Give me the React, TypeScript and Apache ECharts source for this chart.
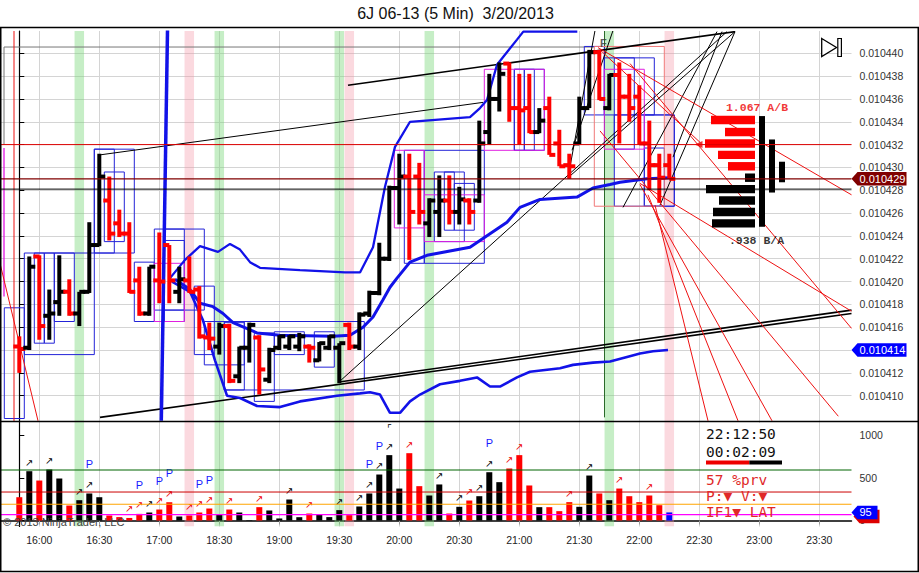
import React, { useEffect, useRef } from "react";
import * as echarts from "echarts";

// ---------- texts ----------
const TITLE = "6J 06-13 (5 Min)  3/20/2013";
const COPYRIGHT = "\u00A9 2013 NinjaTrader, LLC";
const clockLines = ["22:12:50", "00:02:09"];
const statusLines = ["57 %prv", "P:\u25BC V:\u25BC", "IF1\u25BC LAT"];
const barProgress = 0.57;

// ---------- axes ----------
const timeTickIndex = [2, 8, 14, 20, 26, 32, 38, 44, 50, 56, 62, 68, 74, 80];
const timeTickLabels = ["16:00", "16:30", "17:00", "18:30", "19:00", "19:30", "20:00", "20:30", "21:00", "21:30", "22:00", "22:30", "23:00", "23:30"];
const priceTicks = [0.01041, 0.010412, 0.010414, 0.010416, 0.010418, 0.01042, 0.010422, 0.010424, 0.010426, 0.010428, 0.01043, 0.010432, 0.010434, 0.010436, 0.010438, 0.01044];
const volumeTicks = [0, 500, 1000];

// ---------- price bars: [open, high, low, close] ----------
const ohlc = [
  [0.0104143, 0.0104152, 0.010412, 0.0104141],
  [0.0104142, 0.0104222, 0.010414, 0.0104213],
  [0.0104222, 0.0104223, 0.0104149, 0.0104161],
  [0.010417, 0.0104193, 0.0104149, 0.0104172],
  [0.0104182, 0.0104223, 0.010417, 0.0104191],
  [0.0104191, 0.0104202, 0.010417, 0.0104172],
  [0.0104172, 0.0104191, 0.0104161, 0.0104191],
  [0.0104191, 0.0104252, 0.010419, 0.0104232],
  [0.0104232, 0.0104312, 0.0104231, 0.0104292],
  [0.0104271, 0.0104292, 0.0104236, 0.0104242],
  [0.0104251, 0.0104263, 0.0104239, 0.0104242],
  [0.0104242, 0.0104252, 0.010419, 0.0104191],
  [0.0104201, 0.0104213, 0.010417, 0.0104172],
  [0.0104172, 0.0104213, 0.010417, 0.0104213],
  [0.0104201, 0.0104243, 0.0104181, 0.01042],
  [0.0104232, 0.0104232, 0.0104181, 0.0104201],
  [0.0104191, 0.0104213, 0.0104181, 0.0104202],
  [0.0104201, 0.0104222, 0.010419, 0.0104191],
  [0.0104193, 0.0104196, 0.010415, 0.0104152],
  [0.0104151, 0.0104164, 0.010414, 0.010415],
  [0.0104143, 0.0104164, 0.0104136, 0.0104161],
  [0.0104161, 0.0104163, 0.0104111, 0.0104113],
  [0.0104117, 0.0104143, 0.0104111, 0.0104142],
  [0.0104142, 0.0104164, 0.0104129, 0.0104162],
  [0.0104151, 0.0104153, 0.0104101, 0.0104123],
  [0.0104114, 0.0104142, 0.0104111, 0.010414],
  [0.0104142, 0.0104153, 0.010414, 0.0104152],
  [0.0104143, 0.0104153, 0.010414, 0.0104152],
  [0.0104143, 0.0104155, 0.0104139, 0.0104152],
  [0.0104143, 0.0104145, 0.0104129, 0.0104142],
  [0.0104131, 0.0104147, 0.010413, 0.0104146],
  [0.0104142, 0.0104153, 0.010414, 0.0104152],
  [0.0104142, 0.0104146, 0.0104111, 0.0104146],
  [0.0104162, 0.0104164, 0.010414, 0.0104143],
  [0.0104143, 0.0104173, 0.010414, 0.0104171],
  [0.0104172, 0.0104192, 0.0104169, 0.010419],
  [0.010419, 0.0104234, 0.0104188, 0.010422],
  [0.010422, 0.0104284, 0.0104218, 0.0104282],
  [0.0104282, 0.0104312, 0.010425, 0.0104292],
  [0.0104292, 0.0104312, 0.0104219, 0.0104261],
  [0.0104292, 0.0104304, 0.010425, 0.0104261],
  [0.0104251, 0.0104273, 0.0104239, 0.0104271],
  [0.0104261, 0.0104293, 0.0104239, 0.0104271],
  [0.0104271, 0.0104293, 0.010425, 0.0104261],
  [0.0104261, 0.0104283, 0.010425, 0.0104272],
  [0.0104271, 0.0104273, 0.010425, 0.0104261],
  [0.0104271, 0.0104341, 0.0104269, 0.0104321],
  [0.0104331, 0.0104382, 0.010432, 0.010436],
  [0.010436, 0.0104392, 0.0104349, 0.0104382],
  [0.0104391, 0.0104392, 0.010434, 0.0104352],
  [0.0104352, 0.0104382, 0.010432, 0.010435],
  [0.0104352, 0.0104382, 0.010433, 0.0104331],
  [0.0104331, 0.0104352, 0.010433, 0.0104341],
  [0.0104352, 0.0104362, 0.0104311, 0.0104311],
  [0.0104321, 0.0104333, 0.0104301, 0.0104301],
  [0.0104302, 0.0104312, 0.010429, 0.0104301],
  [0.0104321, 0.0104362, 0.010432, 0.0104352],
  [0.0104352, 0.0104403, 0.0104352, 0.0104401],
  [0.0104401, 0.0104403, 0.0104359, 0.010436],
  [0.0104352, 0.0104382, 0.010435, 0.0104381],
  [0.0104381, 0.0104392, 0.0104321, 0.0104362],
  [0.0104362, 0.0104382, 0.010434, 0.0104352],
  [0.0104362, 0.0104372, 0.010432, 0.0104321],
  [0.0104321, 0.0104341, 0.010428, 0.0104302],
  [0.0104302, 0.0104312, 0.0104269, 0.0104291],
  [0.0104302, 0.0104312, 0.010429, 0.010429],
];

// ---------- volume ----------
const volumes = [274, 580, 470, 600, 494, 176, 239, 318, 274, 59, 40, 30, 78, 94, 129, 215, 47, 59, 94, 141, 71, 129, 94, 5, 157, 118, 24, 247, 39, 82, 71, 40, 122, 63, 165, 318, 541, 769, 376, 792, 404, 294, 424, 82, 161, 235, 286, 568, 451, 612, 769, 412, 157, 157, 110, 216, 161, 529, 318, 239, 376, 286, 216, 294, 180, 95];
const arrowBars = [1, 3, 6, 7, 11, 12, 13, 14, 15, 17, 18, 19, 21, 24, 27, 29, 32, 34, 35, 36, 37, 39, 42, 44, 45, 46, 47, 49, 50, 55, 57, 60, 63];
const pBars = [7, 12, 14, 15, 18, 19, 35, 36, 47];
const flagBars = [37];
const volumeLevels = [594, 335, 191, 68];
const lastVolume = 95;

// ---------- highlighted bar columns ----------
const greenBars = [6, 20, 32, 41, 59];
const pinkBars = [17, 33, 65];

// ---------- bands: [bar index, price] ----------
const spikeLine = [[14.82, 0.010442], [14.2, 0.0104078]];
const upperBand = [[15.07, 0.0104203], [16.57, 0.0104219], [18.07, 0.0104231], [19.87, 0.0104226], [21.07, 0.0104233], [22.07, 0.0104228], [23.07, 0.0104217], [24.07, 0.0104212], [28.07, 0.010421], [32.57, 0.0104208], [34.07, 0.0104208], [35.37, 0.010423], [36.57, 0.0104283], [37.57, 0.0104318], [39.07, 0.010434], [45.07, 0.0104344], [46.07, 0.0104352], [46.77, 0.0104359], [47.77, 0.010439], [49.77, 0.0104412], [50.4, 0.0104419], [55.8, 0.0104419]];
const middleBand = [[15.57, 0.0104202], [17.07, 0.0104193], [18.07, 0.0104181], [19.37, 0.0104178], [20.37, 0.0104172], [21.37, 0.0104164], [23.77, 0.0104155], [26.07, 0.0104153], [31.37, 0.0104152], [33.07, 0.0104153], [34.37, 0.010416], [35.37, 0.0104169], [36.37, 0.0104184], [37.07, 0.0104195], [37.77, 0.0104203], [39.07, 0.0104217], [40.77, 0.0104223], [45.07, 0.010423], [48.77, 0.0104252], [50.07, 0.0104265], [52.07, 0.0104272], [55.77, 0.0104274], [57.37, 0.0104282], [59.07, 0.0104285], [60.07, 0.0104287], [62.77, 0.010429], [65.07, 0.0104291]];
const lowerBand = [[15.27, 0.01042], [17.07, 0.0104191], [18.37, 0.0104166], [19.57, 0.0104131], [20.77, 0.01041], [22.07, 0.0104098], [23.77, 0.0104091], [26.07, 0.010409], [28.07, 0.0104095], [31.77, 0.01041], [34.07, 0.0104102], [35.07, 0.0104103], [36.07, 0.0104101], [37.07, 0.0104085], [38.07, 0.0104085], [39.07, 0.0104095], [40.07, 0.0104101], [42.07, 0.010411], [44.07, 0.0104113], [45.77, 0.0104116], [47.07, 0.0104108], [48.07, 0.0104108], [49.77, 0.0104116], [51.07, 0.0104121], [54.07, 0.0104124], [55.37, 0.0104127], [57.37, 0.0104129], [59.07, 0.010413], [60.77, 0.0104134], [62.07, 0.0104137], [63.37, 0.0104139], [64.87, 0.010414]];

// ---------- range boxes: [fromIndex, toIndex, topPrice, bottomPrice] ----------
const blueBoxes = [
  [-1.5, 0.5, 0.0104177, 0.010408], [0.5, 7.5, 0.0104225, 0.0104136], [1.5, 2.5, 0.0104225, 0.0104146],
  [2.5, 3.5, 0.0104225, 0.0104146], [3.5, 5.5, 0.0104225, 0.0104165], [7.5, 11.5, 0.0104316, 0.0104225],
  [7.5, 9.5, 0.0104316, 0.0104225], [8.5, 10.5, 0.0104296, 0.0104235], [11.5, 13.5, 0.0104217, 0.0104165],
  [13.5, 16.5, 0.0104246, 0.0104175], [14.5, 18.5, 0.0104246, 0.0104175], [14.5, 16.5, 0.0104236, 0.0104165],
  [17.5, 19.5, 0.0104196, 0.0104136], [18.5, 22.5, 0.0104165, 0.0104127], [20.5, 34.5, 0.0104165, 0.0104105],
  [20.5, 22.5, 0.0104164, 0.0104105], [23.5, 25.5, 0.0104155, 0.0104095], [25.5, 28.5, 0.0104156, 0.0104136],
  [29.5, 31.5, 0.0104156, 0.0104125], [38.5, 40.5, 0.0104315, 0.0104216], [40.5, 46.5, 0.0104315, 0.0104216],
  [41.5, 44.5, 0.0104296, 0.0104235], [42.5, 43.5, 0.0104296, 0.0104245], [43.5, 45.5, 0.0104286, 0.0104245],
  [49.5, 52.5, 0.0104386, 0.0104315], [49.5, 50.5, 0.0104386, 0.0104315], [50.5, 51.5, 0.0104386, 0.0104315],
  [56.5, 58.5, 0.0104406, 0.0104346], [58.5, 63.5, 0.0104396, 0.0104346], [59.5, 61.5, 0.0104396, 0.0104316],
  [59.5, 65.5, 0.0104346, 0.0104266], [62.5, 65.5, 0.0104346, 0.0104266], [62.5, 64.5, 0.0104317, 0.0104266],
];
const magentaBoxes = [
  [13.5, 16.5, 0.0104216, 0.0104165], [37.5, 40.5, 0.0104315, 0.0104247], [40.5, 46.5, 0.0104276, 0.0104235],
  [46.5, 52.5, 0.0104386, 0.0104315], [58.5, 62.5, 0.0104386, 0.0104316],
];
const pinkBoxes = [[57.5, 64.5, 0.0104406, 0.0104266]];

// ---------- drawn lines: [index1, price1, index2, price2] ----------
const blackThickLines = [
  [32.87, 0.0104372, 71.57, 0.0104419],
  [8.07, 0.0104081, 83.22, 0.0104172],
  [31.97, 0.0104112, 83.22, 0.0104175],
];
const blackLines = [
  [8.07, 0.0104311, 46.37, 0.0104357],
  [31.97, 0.0104112, 70.77, 0.0104419],
  [54.87, 0.0104291, 71.57, 0.0104419],
  [54.87, 0.0104291, 57.57, 0.010442],
  [55.27, 0.0104315, 59.37, 0.010442],
  [64.07, 0.0104267, 71.57, 0.0104419],
  [65.37, 0.0104309, 70.27, 0.0104419],
  [60.37, 0.0104265, 69.77, 0.0104419],
];
const redLines = [
  [57.87, 0.0104405, 83.22, 0.0104276],
  [61.07, 0.0104391, 83.22, 0.0104159],
  [62.07, 0.0104286, 83.22, 0.0104174],
  [58.07, 0.0104332, 81.9, 0.0104082],
  [63.57, 0.0104267, 68.87, 0.0104078],
  [62.87, 0.0104276, 71.87, 0.0104078],
  [62.07, 0.0104285, 75.27, 0.0104078],
  [58.07, 0.0104403, 68.07, 0.0104322],
  [-1.93, 0.0104216, 1.87, 0.0104078],
  [-0.53, 0.010443, -0.53, 0.010407],
];
const grayLines = [
  [-1.53, 0.01044055, 57.47, 0.01044055],
  [-1.53, 0.01044055, -1.53, 0.010432],
];
const magentaLines = [[-1.53, 0.0104317, -1.53, 0.0104187]];
const greenLines = [[58.52, 0.010443, 58.52, 0.0104081]];

// ---------- price levels ----------
const askLevel = 0.010432;
const lastPrice = 0.010429;
const bidLevel = 0.0104281;
const lowerBandLast = 0.010414;

// ---------- volume profile (right) ----------
const profileLevels = [0.01043415, 0.0104331, 0.0104321, 0.0104311, 0.0104301, 0.0104291, 0.0104281, 0.0104271, 0.0104261, 0.0104251];
const profileSizes = [44, 30, 50, 37, 27, 10, 49, 36, 42, 43];
const profileIsAsk = [1, 1, 1, 1, 1, 0, 0, 0, 0, 0];
const profileColumns = [[-7, 0.0104345, 0.0104248], [-17, 0.01043245, 0.0104278], [-27, 0.0104305, 0.0104287]];
const profileTexts = [
  { text: "1.067 A/B", at: [-2, 0.01043527], ask: true },
  { text: ".938 B/A", at: [-1.5, 0.01042364], ask: false },
];
const profileArrowAt = [56.5, 0.010432];
const fibMarks = [{ text: "F", at: [58.4, 0.01044093] }];

// ---------- layout constants ----------
const XMIN = -1.83, XMAX = 83.22;
const PMIN = 0.010407782, PMAX = 0.010441954;
const VMIN = -70.6, VMAX = 1158.8;
const PROF_MIN = -96.5, PROF_MAX = 754;

const RED = "#ff0000";
const BLACK = "#000000";
const BAND_BLUE = "#1212e8";
const GRID_GRAY = "#d4d4d4";
const GREEN_SHADE = "rgba(120,215,120,0.42)";
const PINK_SHADE = "rgba(245,150,165,0.36)";
const MONO = "'DejaVu Sans Mono', 'Liberation Mono', monospace";
const SANS = "'Liberation Sans', Arial, sans-serif";

const isDown = (i: number) => ohlc[i][3] < ohlc[i][0];
// the blue tag sits on top of this axis label, as in the original
const priceLabelValues = priceTicks.filter((v) => Math.abs(v - lowerBandLast) > 1e-10);

function shadeSeries(gridIdx: number) {
  return {
    type: "custom", xAxisIndex: gridIdx, yAxisIndex: gridIdx, z: 1, silent: true, clip: true,
    data: [...greenBars.map((i) => [i, 0]), ...pinkBars.map((i) => [i, 1])],
    renderItem: (params: any, api: any) => {
      const cs = params.coordSys;
      const x = api.coord([api.value(0), gridIdx === 0 ? PMIN : 0])[0];
      const w = api.size([1, 0])[0] * 0.95;
      return { type: "rect", shape: { x: x - w / 2, y: cs.y, width: w, height: cs.height }, style: { fill: api.value(1) ? PINK_SHADE : GREEN_SHADE } };
    },
  };
}

function segSeries(data: number[][], color: string, width: number, z = 3, gridIdx = 0) {
  return {
    type: "custom", xAxisIndex: gridIdx, yAxisIndex: gridIdx, z, silent: true, clip: true, data,
    renderItem: (_p: any, api: any) => {
      const a = api.coord([api.value(0), api.value(1)]);
      const b = api.coord([api.value(2), api.value(3)]);
      return { type: "line", shape: { x1: a[0], y1: a[1], x2: b[0], y2: b[1] }, style: { stroke: color, lineWidth: width } };
    },
  };
}

function hLine(value: number, color: string, width: number, gridIdx = 0) {
  return segSeries([[XMIN, value, XMAX, value]], color, width, 6, gridIdx);
}

function boxSeries(data: number[][], color: string) {
  return {
    type: "custom", xAxisIndex: 0, yAxisIndex: 0, z: 3, silent: true, clip: true, data,
    renderItem: (_p: any, api: any) => {
      const a = api.coord([api.value(0), api.value(2)]);
      const b = api.coord([api.value(1), api.value(3)]);
      return { type: "rect", shape: { x: a[0], y: a[1], width: b[0] - a[0], height: b[1] - a[1] }, style: { fill: "none", stroke: color, lineWidth: 1 } };
    },
  };
}

function bandLine(data: number[][], width: number) {
  return { type: "line", xAxisIndex: 0, yAxisIndex: 0, data, symbol: "none", showSymbol: false, silent: true, z: 4, clip: true, lineStyle: { color: BAND_BLUE, width } };
}

// value tag on the right axis, drawn through the axis scale
function tagSeries(gridIdx: number, values: number[], colors: string[], texts: string[], width: number, shadow?: string) {
  return {
    type: "custom", xAxisIndex: gridIdx, yAxisIndex: gridIdx, z: 20, silent: true, clip: false,
    data: values.map((v) => [XMAX, v]),
    renderItem: (params: any, api: any) => {
      const cs = params.coordSys;
      const y = api.coord([api.value(0), api.value(1)])[1];
      const x0 = cs.x + cs.width;
      const h = 13.5;
      const pts = (dx: number, dy: number) => [
        [x0 + dx, y + dy], [x0 + 6 + dx, y - h / 2 + dy], [x0 + 6 + width + dx, y - h / 2 + dy],
        [x0 + 6 + width + dx, y + h / 2 + dy], [x0 + 6 + dx, y + h / 2 + dy],
      ];
      const children: any[] = [];
      if (shadow) children.push({ type: "polygon", shape: { points: pts(2, 4) }, style: { fill: shadow } });
      children.push({ type: "polygon", shape: { points: pts(0, 0) }, style: { fill: colors[params.dataIndex] } });
      children.push({
        type: "text", x: x0 + 8, y,
        style: { text: texts[params.dataIndex], fill: "#ffffff", fontSize: 11, fontFamily: SANS, verticalAlign: "middle", textVerticalAlign: "middle" },
      });
      return { type: "group", children };
    },
  };
}

function txt(x: number, y: number, text: string, font: any, fill: string, align = "left") {
  return {
    type: "text", x, y, z: 60, silent: true,
    style: { text, fill, ...font, align, textAlign: align, verticalAlign: "middle", textVerticalAlign: "middle" },
  };
}

function buildOption(): any {
  const volFont = { fontSize: 14.5, fontFamily: MONO, lineHeight: 14 };
  return {
    animation: false,
    backgroundColor: "#ffffff",
    textStyle: { fontFamily: SANS },
    grid: [
      { left: 1, right: 67.5, top: 31, height: 390 },
      { left: 1, right: 67.5, top: 422, height: 104.5 },
    ],
    xAxis: [
      {
        gridIndex: 0, type: "value", min: XMIN, max: XMAX,
        axisLine: { show: false }, axisLabel: { show: false },
        axisTick: { show: false, customValues: timeTickIndex },
        splitLine: { show: true, lineStyle: { color: GRID_GRAY, width: 1 } },
      },
      {
        gridIndex: 1, type: "value", min: XMIN, max: XMAX,
        axisLine: { show: true, lineStyle: { color: BLACK, width: 1.5 } },
        axisTick: { show: true, length: 4, customValues: timeTickIndex, lineStyle: { color: "#999" } },
        axisLabel: {
          customValues: timeTickIndex, margin: 8, fontSize: 10.5, color: "#222", fontFamily: SANS,
          formatter: (v: number) => timeTickLabels[timeTickIndex.indexOf(Math.round(v))] || "",
        },
        splitLine: { show: true, lineStyle: { color: GRID_GRAY, width: 1 } },
      },
      { gridIndex: 0, type: "value", min: PROF_MIN, max: PROF_MAX, inverse: true, show: false, position: "top" },
    ],
    yAxis: [
      {
        gridIndex: 0, type: "value", position: "right", min: PMIN, max: PMAX, scale: true,
        axisLine: { show: true, lineStyle: { color: BLACK, width: 1.2 } },
        axisTick: { show: true, length: 5, customValues: priceTicks, lineStyle: { color: BLACK } },
        axisLabel: { customValues: priceLabelValues, margin: 8, fontSize: 10.5, color: "#333", fontFamily: SANS, formatter: (v: number) => v.toFixed(6) },
        splitLine: { show: true, lineStyle: { color: GRID_GRAY, width: 1 } },
      },
      {
        gridIndex: 1, type: "value", position: "right", min: VMIN, max: VMAX,
        axisLine: { show: true, lineStyle: { color: BLACK, width: 1.2 } },
        axisTick: { show: true, length: 5, customValues: volumeTicks, lineStyle: { color: BLACK } },
        axisLabel: { customValues: volumeTicks, margin: 8, fontSize: 10.5, color: "#333", fontFamily: SANS, formatter: (v: number) => String(Math.round(v)) },
        splitLine: { show: false },
      },
    ],
    series: [
      shadeSeries(0),
      shadeSeries(1),
      segSeries(greenLines, "#2a6a2a", 1, 2),
      segSeries(grayLines, "#777777", 1),
      segSeries(magentaLines, "#e000e0", 1.2),
      boxSeries(blueBoxes, "#2323d8"),
      boxSeries(magentaBoxes, "#e020e0"),
      boxSeries(pinkBoxes, "#f07878"),
      segSeries(blackLines, BLACK, 1),
      segSeries(blackThickLines, BLACK, 1.6),
      segSeries(redLines, "#ee1111", 1),
      hLine(askLevel, "#dd0000", 1),
      hLine(bidLevel, BLACK, 1),
      hLine(lastPrice, "#800000", 1.2),
      bandLine(spikeLine, 3.5),
      bandLine(upperBand, 2.3),
      bandLine(middleBand, 3),
      bandLine(lowerBand, 2.6),
      {
        type: "custom", xAxisIndex: 0, yAxisIndex: 0, z: 5, silent: true, clip: true,
        data: ohlc.map((r, i) => [i, ...r]),
        renderItem: (_p: any, api: any) => {
          const i = api.value(0);
          const o = api.value(1), h = api.value(2), l = api.value(3), c = api.value(4);
          const [x, yh] = api.coord([i, h]);
          const yl = api.coord([i, l])[1];
          const yo = api.coord([i, o])[1];
          const yc = api.coord([i, c])[1];
          const col = c < o ? RED : BLACK;
          return {
            type: "group",
            children: [
              { type: "rect", shape: { x: x - 2, y: yh, width: 4, height: Math.max(yl - yh, 4) }, style: { fill: col } },
              { type: "rect", shape: { x: x - 6, y: yo - 2, width: 6, height: 4 }, style: { fill: col } },
              { type: "rect", shape: { x: x, y: yc - 2, width: 6, height: 4 }, style: { fill: col } },
            ],
          };
        },
      },
      {
        type: "custom", xAxisIndex: 2, yAxisIndex: 0, z: 5, silent: true,
        data: profileLevels.map((p, k) => [profileSizes[k], p, profileIsAsk[k]]),
        renderItem: (_p: any, api: any) => {
          const right = api.coord([0, api.value(1)]);
          const left = api.coord([api.value(0), api.value(1)]);
          const hh = api.size([0, 0.000001])[1] * 0.74;
          return { type: "rect", shape: { x: left[0], y: right[1] - hh / 2, width: right[0] - left[0], height: hh }, style: { fill: api.value(2) ? RED : BLACK } };
        },
      },
      {
        type: "custom", xAxisIndex: 2, yAxisIndex: 0, z: 5, silent: true,
        data: profileColumns,
        renderItem: (_p: any, api: any) => {
          const a = api.coord([api.value(0), api.value(1)]);
          const b = api.coord([api.value(0), api.value(2)]);
          return { type: "rect", shape: { x: a[0] - 3, y: a[1], width: 6, height: b[1] - a[1] }, style: { fill: BLACK } };
        },
      },
      {
        type: "scatter", xAxisIndex: 2, yAxisIndex: 0, z: 7, silent: true,
        symbolSize: 1, itemStyle: { color: "rgba(0,0,0,0)" },
        data: profileTexts.map((t) => ({
          value: t.at,
          label: { show: true, position: "inside", formatter: t.text, color: t.ask ? "#ee0000" : BLACK, fontWeight: "bold", fontSize: 11.5, fontFamily: "'Liberation Mono', monospace" },
        })),
      },
      {
        type: "scatter", xAxisIndex: 2, yAxisIndex: 0, z: 7, silent: true,
        symbol: "triangle", symbolRotate: 90, symbolSize: [7, 8], itemStyle: { color: "#ee0000" },
        data: [profileArrowAt],
      },
      {
        type: "scatter", xAxisIndex: 0, yAxisIndex: 0, z: 7, silent: true,
        symbolSize: 1, itemStyle: { color: "rgba(0,0,0,0)" },
        data: fibMarks.map((m) => ({ value: m.at, label: { show: true, position: "inside", formatter: m.text, color: "#333", fontWeight: "bold", fontSize: 11 } })),
      },
      tagSeries(0, [lastPrice, lowerBandLast], ["#800000", "#0000ff"], [lastPrice.toFixed(6), lowerBandLast.toFixed(6)], 49),
      hLine(volumeLevels[0], "#006400", 1, 1),
      hLine(volumeLevels[1], "#cc0000", 1, 1),
      hLine(volumeLevels[2], "#ffa500", 1.2, 1),
      hLine(volumeLevels[3], "#ff00ff", 1.2, 1),
      {
        type: "bar", xAxisIndex: 1, yAxisIndex: 1, z: 5, barWidth: 6, silent: true, clip: false,
        data: volumes.map((v, i) => ({
          value: [i, v],
          itemStyle: { color: i === volumes.length - 1 ? "#0000ff" : isDown(i) ? RED : BLACK },
        })),
        label: {
          show: true, position: "top", distance: 2,
          formatter: (p: any) => {
            const i = p.dataIndex;
            if (!arrowBars.includes(i)) return "";
            const a = isDown(i) ? "{ar|\u2197}" : "{ab|\u2197}";
            if (pBars.includes(i)) return "{p|P}\n" + a;
            if (flagBars.includes(i)) return "{m|\u231C}\n" + a;
            return a;
          },
          rich: {
            ab: { color: BLACK, fontSize: 10, lineHeight: 14, fontFamily: "'DejaVu Sans'" },
            ar: { color: "#ee0000", fontSize: 10, lineHeight: 14, fontFamily: "'DejaVu Sans'" },
            p: { color: "#1a1aff", fontSize: 11, lineHeight: 26, fontFamily: SANS },
            m: { color: BLACK, fontSize: 10, lineHeight: 22, fontFamily: "'DejaVu Sans'" },
          },
        },
      },
      tagSeries(1, [lastVolume], ["#0000ff"], [String(lastVolume)], 20, "#dd0000"),
    ],
    graphic: [
      txt(455.5, 13, TITLE, { fontSize: 16, fontFamily: SANS }, "#111", "center"),
      { type: "rect", z: 1, silent: true, shape: { x: 703, y: 423, width: 83, height: 95 }, style: { fill: "#ffffff" } },
      { type: "rect", z: 80, silent: true, shape: { x: 0.75, y: 27.5, width: 917.5, height: 544 }, style: { fill: "none", stroke: BLACK, lineWidth: 1.5 } },
      { type: "line", z: 80, silent: true, shape: { x1: 0, y1: 421.5, x2: 918, y2: 421.5 }, style: { stroke: BLACK, lineWidth: 1.5 } },
      { type: "polygon", z: 60, silent: true, shape: { points: [[821.7, 38.5], [836.5, 47.5], [821.7, 56.5]] }, style: { fill: "#fff", stroke: BLACK, lineWidth: 1.3 } },
      { type: "rect", z: 60, silent: true, shape: { x: 837.8, y: 38.5, width: 3.6, height: 18 }, style: { fill: "#fff", stroke: BLACK, lineWidth: 1.2 } },
      txt(706, 434, clockLines[0], volFont, "#111"),
      txt(706, 452, clockLines[1], volFont, "#111"),
      { type: "rect", z: 60, silent: true, shape: { x: 706, y: 460.5, width: 76 * barProgress, height: 4 }, style: { fill: "#ee0000" } },
      { type: "rect", z: 60, silent: true, shape: { x: 706 + 76 * barProgress, y: 460.5, width: 76 * (1 - barProgress), height: 4 }, style: { fill: BLACK } },
      txt(706, 479.5, statusLines[0], volFont, "#e02828"),
      txt(706, 495.5, statusLines[1], volFont, "#e02828"),
      txt(706, 511.5, statusLines[2], volFont, "#e02828"),
      txt(3, 521.5, COPYRIGHT, { fontSize: 11, fontFamily: SANS }, "#444"),
    ],
  };
}

export default function App() {
  const ref = useRef<HTMLDivElement>(null);
  useEffect(() => {
    document.body.style.margin = "0";
    const chart = echarts.init(ref.current as HTMLDivElement, null, { renderer: "svg" });
    chart.setOption(buildOption());
    return () => chart.dispose();
  }, []);
  return <div ref={ref} style={{ width: 919, height: 573 }} />;
}
